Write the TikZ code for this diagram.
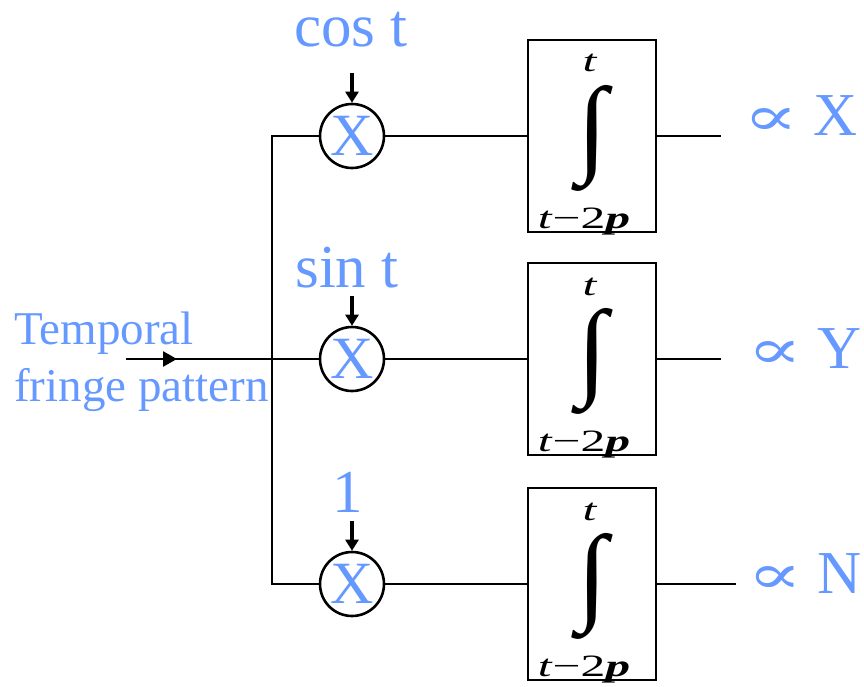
\documentclass[tikz,border=0pt]{standalone}
\usepackage{fontspec}
\setmainfont{Liberation Serif}
\newfontfamily\propfont{DejaVu Serif}
\usetikzlibrary{arrows.meta,decorations.markings}
\definecolor{fringeblue}{RGB}{102,153,255}
\newcommand{\widen}[1]{\scalebox{1.6}[1]{#1}}
\newcommand{\propsign}{{\propfont\fontsize{48}{48}\selectfont\scalebox{1.7}[1.15]{∝}}}

\begin{document}
\begin{tikzpicture}
  [x=1pt, y=-1pt, line width=2.6pt,
   mult/.style={circle, draw=black, minimum size=64pt, inner sep=0pt, text=fringeblue, font=\fontsize{60}{60}\selectfont},
   intbox/.style={rectangle, draw=black, minimum width=128pt, minimum height=192pt, inner sep=0pt},
   bluetext/.style={text=fringeblue, inner sep=0pt, font=\fontsize{61}{61}\selectfont},
   boxtext/.style={inner sep=0pt, font=\fontsize{31}{31}\selectfont},
   feed/.style={line width=4.5pt, -{Triangle[width=13pt, length=11pt]}}]

  \useasboundingbox (0,0) rectangle (864,687);

  \foreach \nm/\y/\lx/\ly/\lab/\ox/\rx/\ry/\res in
    {x/136/351/47/cos t/721/742/136/X, y/359/347/287/sin t/721/746/368/Y, n/584/348/512/1/736/746/593/N}
  {
    % multiplier and its reference signal
    \node[mult] (m\nm) at (352,\y) {X};
    \node[bluetext, anchor=base] (l\nm) at (\lx,\ly) {\lab};
    \coordinate (a\nm) at (352,\y-63);
    \draw[feed] (a\nm) -- (m\nm.north);

    % integrator
    \node[intbox] (b\nm) at (592,\y) {};
    \node[boxtext, anchor=base] (t\nm) at (590,\y-64) {\widen{\textit{t}}};
    \node[inner sep=0pt] (i\nm) at (592,\y+2) {\resizebox*{30pt}{106pt}{∫}};
    \node[boxtext, anchor=base] (s\nm) at (584,\y+92) {\widen{\textit{t}−2\textbf{\textit{p}}}};
    \draw (m\nm.east) -- (b\nm.west);

    % output
    \coordinate (o\nm) at (\ox,\y);
    \draw (b\nm.east) -- (o\nm);
    \node[bluetext, anchor=base west] (r\nm) at (\rx,\ry) {\propsign\hspace{15pt}\res};
  }

  \coordinate (jx) at (272,136);
  \coordinate (jn) at (272,584);
  \coordinate (src) at (126,359);

  \draw (mx.west) -- (jx) -- (jn) -- (mn.west);
  \draw[postaction={decorate}, decoration={markings,
        mark=at position 51pt with {\arrow{Triangle[width=15pt, length=14pt]}}}]
    (src) -- (my.west);

  \node[bluetext, font=\fontsize{47}{57}\selectfont, align=left, anchor=north west]
    (inp) at (13,311) {Temporal\\fringe pattern};
\end{tikzpicture}
\end{document}
